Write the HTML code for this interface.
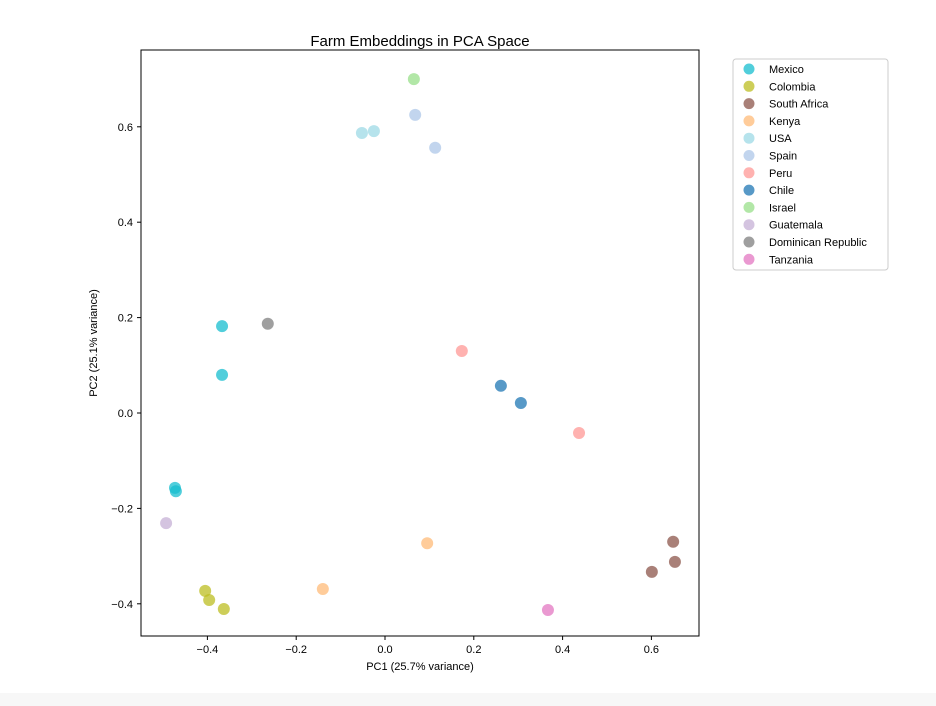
<!DOCTYPE html>
<html><head><meta charset="utf-8"><style>
body{margin:0;background:#fff;width:936px;height:706px;overflow:hidden;font-family:"Liberation Sans",sans-serif}
</style></head><body>
<svg width="936" height="706" style="position:absolute;left:0;top:0">
<rect x="0" y="693" width="936" height="13" fill="#f7f7f7"/>
<text x="420" y="46" font-size="15" text-anchor="middle" fill="#000">Farm Embeddings in PCA Space</text>
<g id="axes"></g>
<g id="points"></g>
<rect x="141" y="50" width="558" height="586" fill="none" stroke="#000" stroke-width="1"/>
<text x="420" y="670" font-size="11" text-anchor="middle">PC1 (25.7% variance)</text>
<text transform="translate(97,343) rotate(-90)" font-size="11" text-anchor="middle">PC2 (25.1% variance)</text>
<rect x="733" y="59" width="155" height="211" rx="3" fill="#fff" stroke="#ccc"/>
<g id="legend"></g>
</svg>
<script>
const countries=["Mexico","Colombia","South Africa","Kenya","USA","Spain","Peru","Chile","Israel","Guatemala","Dominican Republic","Tanzania"];
const colors=["#17becf","#bcbd22","#8c564b","#ffbb78","#9edae5","#aec7e8","#ff9896","#1f77b4","#98df8a","#c5b0d5","#7f7f7f","#e377c2"];
const pc1=[-0.367,-0.367,-0.473,-0.471,-0.405,-0.396,-0.363,0.649,0.653,0.601,0.095,-0.140,-0.052,-0.025,0.068,0.113,0.173,0.437,0.261,0.306,0.065,-0.493,-0.264,0.367];
const pc2=[0.182,0.080,-0.157,-0.164,-0.373,-0.392,-0.411,-0.270,-0.312,-0.333,-0.273,-0.369,0.587,0.591,0.625,0.556,0.130,-0.042,0.057,0.021,0.700,-0.231,0.187,-0.413];
const group=[0,0,0,0,1,1,1,2,2,2,3,3,4,4,5,5,6,6,7,7,8,9,10,11];
const xTicks=[-0.4,-0.2,0.0,0.2,0.4,0.6];
const yTicks=[-0.4,-0.2,0.0,0.2,0.4,0.6];
const NS="http://www.w3.org/2000/svg";
const sx=v=>385+v*444, sy=v=>413-v*477;
function mk(t,a,p){const e=document.createElementNS(NS,t);for(const k in a)e.setAttribute(k,a[k]);p.appendChild(e);return e;}
const ax=document.getElementById('axes');
xTicks.forEach(t=>{const x=sx(t);
 const l=mk('line',{x1:x,x2:x,y1:636,y2:640,stroke:'#000'},ax);
 
 
 const tx=mk('text',{x:x,y:653,'font-size':11,'text-anchor':'middle'},ax);tx.textContent=(t<0?'\u2212':'')+Math.abs(t).toFixed(1);
 
 });
yTicks.forEach(t=>{const y=sy(t);
 const l=mk('line',{x1:137,x2:141,y1:y,y2:y,stroke:'#000'},ax);
 
 
 const tx=mk('text',{x:133,y:y+4,'font-size':11,'text-anchor':'end'},ax);tx.textContent=(t<0?'\u2212':'')+Math.abs(t).toFixed(1);
 
 });
const pg=document.getElementById('points');
pc1.forEach((v,i)=>{const c=mk('circle',{cx:sx(v),cy:sy(pc2[i]),r:6,fill:colors[group[i]],'fill-opacity':0.75},pg);
 
 });
const lg=document.getElementById('legend');
countries.forEach((n,i)=>{const y=69+i*17.3;
 const c=mk('circle',{cx:749,cy:y,r:5.5,fill:colors[i],'fill-opacity':0.75},lg);
 
 
 const t=mk('text',{x:769,y:y+4,'font-size':11},lg);t.textContent=n;
 
 });
</script>
</body></html>
